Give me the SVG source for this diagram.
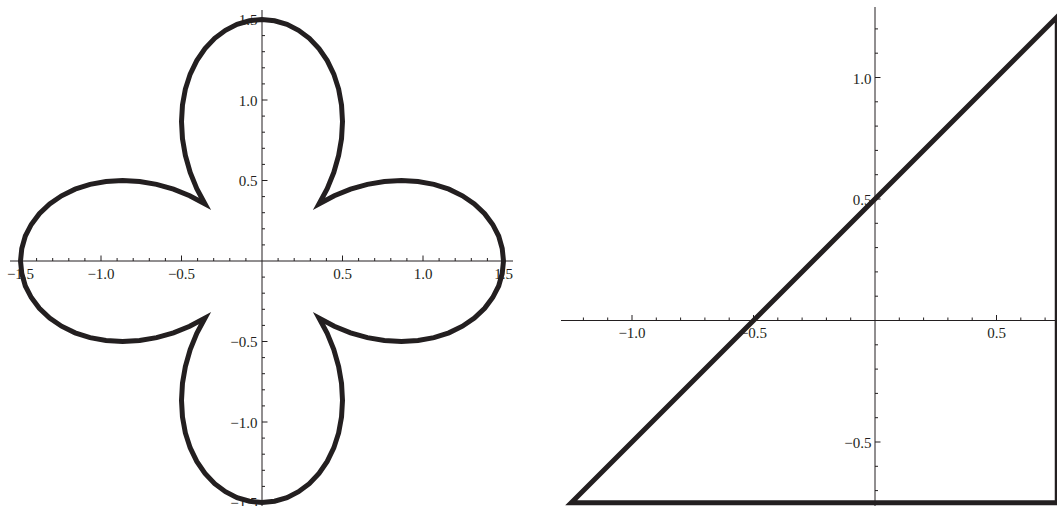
<svg xmlns="http://www.w3.org/2000/svg" width="1057" height="506" viewBox="0 0 1057 506">
<style>
.ax{fill:none;stroke:#231f20;stroke-width:1}
.tk{fill:none;stroke:#231f20;stroke-width:1}
.lb{font-family:"Liberation Serif","Times New Roman",serif;font-size:15px;fill:#231f20}
.xl{text-anchor:middle}
.yl{text-anchor:end}
.crv{fill:none;stroke:#231f20;stroke-linejoin:miter;stroke-miterlimit:10}
</style>
<rect width="1057" height="506" fill="#ffffff"/>
<g id="left-plot">
<g id="left-axes">
<path class="ax" d="M10 261H513M262 10V506"/>
<path class="tk" d="M20.5 261v-5.5M101 261v-5.5M181.5 261v-5.5M342.5 261v-5.5M423 261v-5.5M503.5 261v-5.5M36.6 261v-3M52.7 261v-3M68.8 261v-3M84.9 261v-3M117.1 261v-3M133.2 261v-3M149.3 261v-3M165.4 261v-3M197.6 261v-3M213.7 261v-3M229.8 261v-3M245.9 261v-3M278.1 261v-3M294.2 261v-3M310.3 261v-3M326.4 261v-3M358.6 261v-3M374.7 261v-3M390.8 261v-3M406.9 261v-3M439.1 261v-3M455.2 261v-3M471.3 261v-3M487.4 261v-3"/>
<path class="tk" d="M262 19.5h5.5M262 100h5.5M262 180.5h5.5M262 341.5h5.5M262 422h5.5M262 502.5h5.5M262 35.6h3M262 51.7h3M262 67.8h3M262 83.9h3M262 116.1h3M262 132.2h3M262 148.3h3M262 164.4h3M262 196.6h3M262 212.7h3M262 228.8h3M262 244.9h3M262 277.1h3M262 293.2h3M262 309.3h3M262 325.4h3M262 357.6h3M262 373.7h3M262 389.8h3M262 405.9h3M262 438.1h3M262 454.2h3M262 470.3h3M262 486.4h3"/>
</g>
<g id="left-labels" class="lb">
<text class="xl" x="20.5" y="279">−1.5</text>
<text class="xl" x="101" y="279">−1.0</text>
<text class="xl" x="181.5" y="279">−0.5</text>
<text class="xl" x="342.5" y="279">0.5</text>
<text class="xl" x="423" y="279">1.0</text>
<text class="xl" x="503.5" y="279">1.5</text>
<text class="yl" x="257.5" y="25">1.5</text>
<text class="yl" x="257.5" y="105.5">1.0</text>
<text class="yl" x="257.5" y="186">0.5</text>
<text class="yl" x="257.5" y="347">−0.5</text>
<text class="yl" x="257.5" y="427.5">−1.0</text>
<text class="yl" x="257.5" y="508">−1.5</text>
</g>
<path id="quatrefoil" class="crv" stroke-width="0.031" transform="translate(262,261) scale(161,-161)" d="M1.5,0 L1.492,0.078 1.470,0.155 1.433,0.227 1.383,0.294 1.319,0.354 1.245,0.405 1.161,0.446 1.068,0.476 0.969,0.494 0.866,0.5 0.760,0.494 0.655,0.476 0.550,0.446 0.449,0.405 0.354,0.354 0.405,0.449 0.446,0.550 0.476,0.655 0.494,0.760 0.5,0.866 0.494,0.969 0.476,1.068 0.446,1.161 0.405,1.245 0.354,1.319 0.294,1.383 0.227,1.433 0.155,1.470 0.078,1.492 0,1.5 -0.078,1.492 -0.155,1.470 -0.227,1.433 -0.294,1.383 -0.354,1.319 -0.405,1.245 -0.446,1.161 -0.476,1.068 -0.494,0.969 -0.5,0.866 -0.494,0.760 -0.476,0.655 -0.446,0.550 -0.405,0.449 -0.354,0.354 -0.449,0.405 -0.550,0.446 -0.655,0.476 -0.760,0.494 -0.866,0.5 -0.969,0.494 -1.068,0.476 -1.161,0.446 -1.245,0.405 -1.319,0.354 -1.383,0.294 -1.433,0.227 -1.470,0.155 -1.492,0.078 -1.5,0 -1.492,-0.078 -1.470,-0.155 -1.433,-0.227 -1.383,-0.294 -1.319,-0.354 -1.245,-0.405 -1.161,-0.446 -1.068,-0.476 -0.969,-0.494 -0.866,-0.5 -0.760,-0.494 -0.655,-0.476 -0.550,-0.446 -0.449,-0.405 -0.354,-0.354 -0.405,-0.449 -0.446,-0.550 -0.476,-0.655 -0.494,-0.760 -0.5,-0.866 -0.494,-0.969 -0.476,-1.068 -0.446,-1.161 -0.405,-1.245 -0.354,-1.319 -0.294,-1.383 -0.227,-1.433 -0.155,-1.470 -0.078,-1.492 0,-1.5 0.078,-1.492 0.155,-1.470 0.227,-1.433 0.294,-1.383 0.354,-1.319 0.405,-1.245 0.446,-1.161 0.476,-1.068 0.494,-0.969 0.5,-0.866 0.494,-0.760 0.476,-0.655 0.446,-0.550 0.405,-0.449 0.354,-0.354 0.449,-0.405 0.550,-0.446 0.655,-0.476 0.760,-0.494 0.866,-0.5 0.969,-0.494 1.068,-0.476 1.161,-0.446 1.245,-0.405 1.319,-0.354 1.383,-0.294 1.433,-0.227 1.470,-0.155 1.492,-0.078 Z"/>
</g>
<g id="right-plot">
<g id="right-axes">
<path class="ax" d="M561 320.5H1057M875 7V506"/>
<path class="tk" d="M632 320.5v-5.5M753.5 320.5v-5.5M996.5 320.5v-5.5M583.4 320.5v-3M607.7 320.5v-3M656.3 320.5v-3M680.6 320.5v-3M704.9 320.5v-3M729.2 320.5v-3M777.8 320.5v-3M802.1 320.5v-3M826.4 320.5v-3M850.7 320.5v-3M899.3 320.5v-3M923.6 320.5v-3M947.9 320.5v-3M972.2 320.5v-3M1020.8 320.5v-3M1045.1 320.5v-3"/>
<path class="tk" d="M875 77.5h5.5M875 199h5.5M875 442h5.5M875 28.9h3M875 53.2h3M875 101.8h3M875 126.1h3M875 150.4h3M875 174.7h3M875 223.3h3M875 247.6h3M875 271.9h3M875 296.2h3M875 344.8h3M875 369.1h3M875 393.4h3M875 417.7h3M875 466.3h3M875 490.6h3"/>
</g>
<g id="right-labels" class="lb">
<text class="xl" x="632" y="338">−1.0</text>
<text class="xl" x="753.5" y="338">−0.5</text>
<text class="xl" x="996.5" y="338">0.5</text>
<text class="yl" x="871.5" y="83.5">1.0</text>
<text class="yl" x="871.5" y="205">0.5</text>
<text class="yl" x="871.5" y="448">−0.5</text>
</g>
<path id="triangle" class="crv" stroke-width="5" d="M571.25 502.75 L1057.25 16.75 L1057.25 502.75 Z"/>
</g>
</svg>
